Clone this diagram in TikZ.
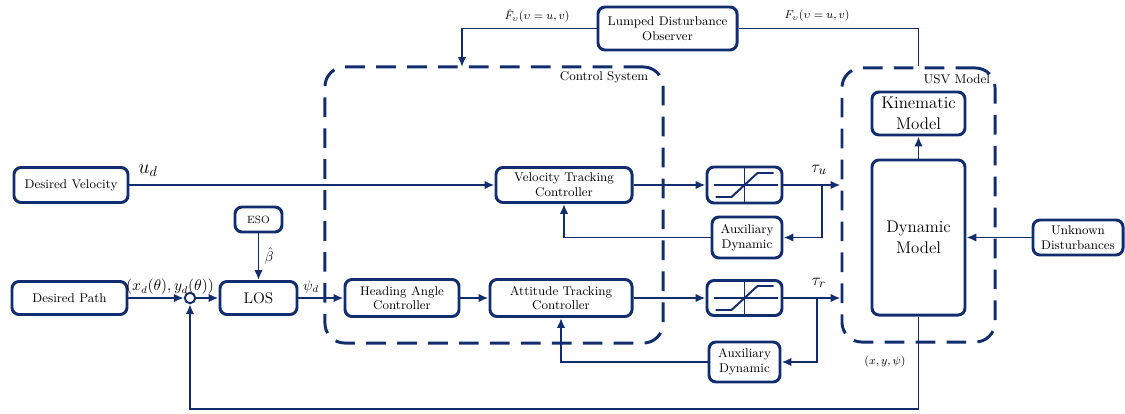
\documentclass[tikz,border=0pt]{standalone}
\usepackage{amsmath,amssymb}
\usetikzlibrary{positioning, shapes, arrows.meta}
\definecolor{navy}{RGB}{18,45,110}

\begin{document}
\begin{tikzpicture}[-{Latex[length=7pt,width=6pt]}, x=0.025cm, y=-0.025cm, line width=1.4pt, navy,
      every node/.style={text=black},
      blk/.style={draw=navy, rounded corners=5pt, line width=2.1pt, align=center,
        inner sep=1pt, font=\rmfamily\fontsize{9}{10.5}\selectfont},
      big/.style={blk, font=\rmfamily\fontsize{12}{15}\selectfont},
      region/.style={draw=navy, dash pattern=on 14pt off 8pt, rounded corners=14pt,
        line width=2.1pt, inner sep=0pt},
      lbl/.style={inner sep=1pt, font=\rmfamily\fontsize{9}{10}\selectfont}]
      \useasboundingbox (0,0) rectangle (1125,414);
      % regions
      \node[region, minimum width=8.45cm, minimum height=6.9cm] (cs) at (494,205) {};
      \node[region, minimum width=3.825cm, minimum height=6.85cm] (usv) at (918.5,205) {};
      \node[lbl, anchor=north east] (cslbl) at ([shift={(-14,4)}]cs.north east) {Control System};
      \node[lbl, anchor=north east] (usvlbl) at ([shift={(-4,6)}]usv.north east) {USV Model};
      % velocity loop
      \node[blk, minimum width=2.85cm, minimum height=0.875cm] (dv) at (71,185) {Desired Velocity};
      \node[blk, minimum width=3.4cm, minimum height=0.875cm] (vtc) at (564,185) {Velocity Tracking\\Controller};
      \node[blk, minimum width=1.875cm, minimum height=0.9cm] (sat1) at (744.5,185) {};
      \node[blk, minimum width=1.75cm, minimum height=1.025cm] (aux1) at (747,237.5) {Auxiliary\\Dynamic};
      % heading loop
      \node[blk, minimum width=2.875cm, minimum height=0.825cm] (dp) at (69.5,298) {Desired Path};
      \node[circle, draw=navy, line width=1.4pt, minimum size=0.26cm, inner sep=0pt] (sum) at (190,298) {};
      \node[blk, minimum width=1.925cm, minimum height=0.825cm, font=\rmfamily\fontsize{11}{12}\selectfont] (los) at (258.5,298) {LOS};
      \node[blk, minimum width=1.175cm, minimum height=0.625cm, font=\rmfamily\fontsize{7.5}{9}\selectfont] (eso) at (258.5,219.5) {ESO};
      \node[blk, minimum width=2.85cm, minimum height=0.925cm] (hac) at (402,298) {Heading Angle\\Controller};
      \node[blk, minimum width=3.55cm, minimum height=0.925cm] (atc) at (561,298) {Attitude Tracking\\Controller};
      \node[blk, minimum width=1.875cm, minimum height=0.875cm] (sat2) at (744.5,298) {};
      \node[blk, minimum width=1.775cm, minimum height=1cm] (aux2) at (744.5,362) {Auxiliary\\Dynamic};
      % USV model
      \node[big, minimum width=2.325cm, minimum height=1.075cm] (km) at (918.5,113.5) {Kinematic\\Model};
      \node[big, minimum width=2.325cm, minimum height=3.875cm] (dm) at (918.5,237.5) {Dynamic\\Model};
      \node[blk, minimum width=2.25cm, minimum height=0.875cm] (ud) at (1078,237.5) {Unknown\\Disturbances};
      \node[blk, minimum width=3.475cm, minimum height=1.075cm] (ldo) at (667.5,28.5) {Lumped Disturbance\\Observer};
      % saturation symbols
      \foreach \s in {sat1, sat2} {
        \draw[-] (\s.north) -- (\s.south);
        \draw[-] ([shift={(-31,0)}]\s.center) -- ([shift={(33,0)}]\s.center);
        \draw[-] ([shift={(-29,12)}]\s.center) -- ([shift={(-13,12)}]\s.center)
          -- ([shift={(13,-12)}]\s.center) -- ([shift={(29,-12)}]\s.center);
      }
      % labels
      \node[font=\fontsize{14}{14}\selectfont] (udlbl) at (148,171) {$u_d$};
      \node[font=\fontsize{13}{13}\selectfont] (tulbl) at (819,170) {$\tau_u$};
      \node[font=\fontsize{13}{13}\selectfont] (trlbl) at (819,283) {$\tau_r$};
      \node[font=\fontsize{10}{10}\selectfont] (psilbl) at (311,287) {$\psi_d$};
      \node[font=\fontsize{10}{10}\selectfont, anchor=west, inner sep=0pt] (betalbl) at (264,256) {$\hat{\beta}$};
      \node[font=\fontsize{10.5}{10.5}\selectfont] (xdlbl) at (170,287) {$(x_d(\theta),y_d(\theta))$};
      \node[font=\fontsize{8}{8}\selectfont] (fhatlbl) at (537,16) {$\hat{F}_\upsilon(\upsilon=u,v)$};
      \node[font=\fontsize{8}{8}\selectfont] (flbl) at (817,16) {$F_\upsilon(\upsilon=u,v)$};
      \node[font=\fontsize{8.5}{8.5}\selectfont] (poslbl) at (885,362) {$(x,y,\psi)$};
      % velocity path
      \path (dv) edge (vtc);
      \path (vtc) edge (sat1);
      \draw (sat1) -- (sat1 -| usv.west);
      \coordinate (bu) at (822,185);
      \draw (bu) |- (aux1);
      \draw (aux1) -| (vtc);
      % heading path
      \path (dp) edge (sum);
      \path (sum) edge (los);
      \path (eso) edge (los);
      \path (los) edge (hac);
      \path (hac) edge (atc);
      \path (atc) edge (sat2);
      \draw (sat2) -- (sat2 -| usv.west);
      \coordinate (br) at (817,298);
      \draw (br) |- (aux2);
      \draw (aux2) -| (atc);
      % plant and observer
      \path (ud) edge (dm);
      \path (dm) edge (km);
      \coordinate (fb) at (918.5,409);
      \draw (dm) -- (fb) -| (sum);
      \coordinate (ldoin) at (462,67);
      \draw (ldo) -| (ldoin);
      \draw[-] (ldo) -| (usv);
\end{tikzpicture}
\end{document}
